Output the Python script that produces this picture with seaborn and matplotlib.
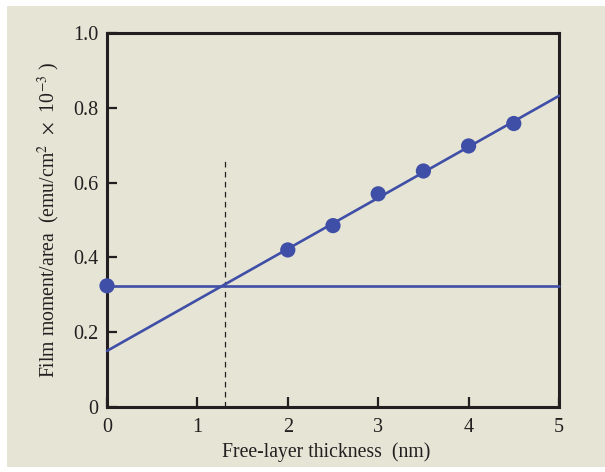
import numpy as np
import pandas as pd
import matplotlib
matplotlib.use("Agg")
import matplotlib.pyplot as plt
import seaborn as sns
from matplotlib.patches import Rectangle

# Measured film moment per area vs free-layer thickness
thickness_nm = [0.0, 2.0, 2.5, 3.0, 3.5, 4.0, 4.5]
moment = [0.324, 0.420, 0.485, 0.570, 0.631, 0.698, 0.758]

# Linear fit through the thick-film points and the reference level
fit_x = [0.0, 5.0]
fit_y = [0.150, 0.832]
ref_level = 0.324
cross_x = 1.3
cross_top = 0.658

x_ticks = [0, 1, 2, 3, 4, 5]
y_ticks = [0, 0.2, 0.4, 0.6, 0.8, 1.0]
y_ticklabels = ["0", "0.2", "0.4", "0.6", "0.8", "1.0"]

sns.set_theme(style="white")
plt.rcParams["font.family"] = ["Liberation Serif", "DejaVu Serif"]
plt.rcParams["mathtext.fontset"] = "stix"

blue = "#3f4ea6"
bg = "#e6e4d5"
ink = "#231f20"

fig = plt.figure(figsize=(6.05, 4.72), dpi=100, facecolor="white")
fig.patches.append(Rectangle((7 / 605, 5 / 472), 1 - 7 / 605, 1 - 11 / 472,
                             transform=fig.transFigure, facecolor=bg,
                             edgecolor="none", zorder=-10))
ax = fig.add_axes([107 / 605, 1 - 407 / 472, 452 / 605, 374 / 472])
ax.set_facecolor(bg)

fit_df = pd.DataFrame({"x": fit_x, "y": fit_y})
sns.lineplot(data=fit_df, x="x", y="y", ax=ax, color=blue, linewidth=1.9,
             clip_on=False, zorder=3)
ref_df = pd.DataFrame({"x": [0.0, 5.0], "y": [ref_level, ref_level]})
sns.lineplot(data=ref_df, x="x", y="y", ax=ax, color=blue, linewidth=1.9,
             clip_on=False, zorder=3)
ax.plot([cross_x, cross_x], [0, cross_top], color=ink, linewidth=0.9,
        linestyle=(0, (4.5, 3.5)), zorder=2)

pts = pd.DataFrame({"x": thickness_nm, "y": moment})
sns.scatterplot(data=pts, x="x", y="y", ax=ax, color=blue, s=120,
                edgecolor="none", clip_on=False, zorder=4)

ax.set_xlim(0, 5)
ax.set_ylim(0, 1.0)
ax.set_xticks(x_ticks)
ax.set_yticks(y_ticks)
ax.set_yticklabels(y_ticklabels)

for s in ax.spines.values():
    s.set_visible(True)
    s.set_color(ink)
    s.set_linewidth(2.2)

ax.tick_params(axis="both", direction="in", length=7, width=1.6,
               color=ink, labelsize=14.5, labelcolor=ink,
               top=False, right=False, left=True, bottom=True)
ax.tick_params(axis="y", pad=6)
ax.tick_params(axis="x", pad=8)

ax.set_xlabel("Free-layer thickness  (nm)", fontsize=14.2, color=ink, labelpad=4)
ax.xaxis.label.set_x(0.485)
ax.set_ylabel(r"Film moment/area  (emu/cm$^2$  $\times$  10$^{-3}$ )",
              fontsize=14.2, color=ink, labelpad=8)

fig.savefig("out.png", dpi=100, facecolor="white")
